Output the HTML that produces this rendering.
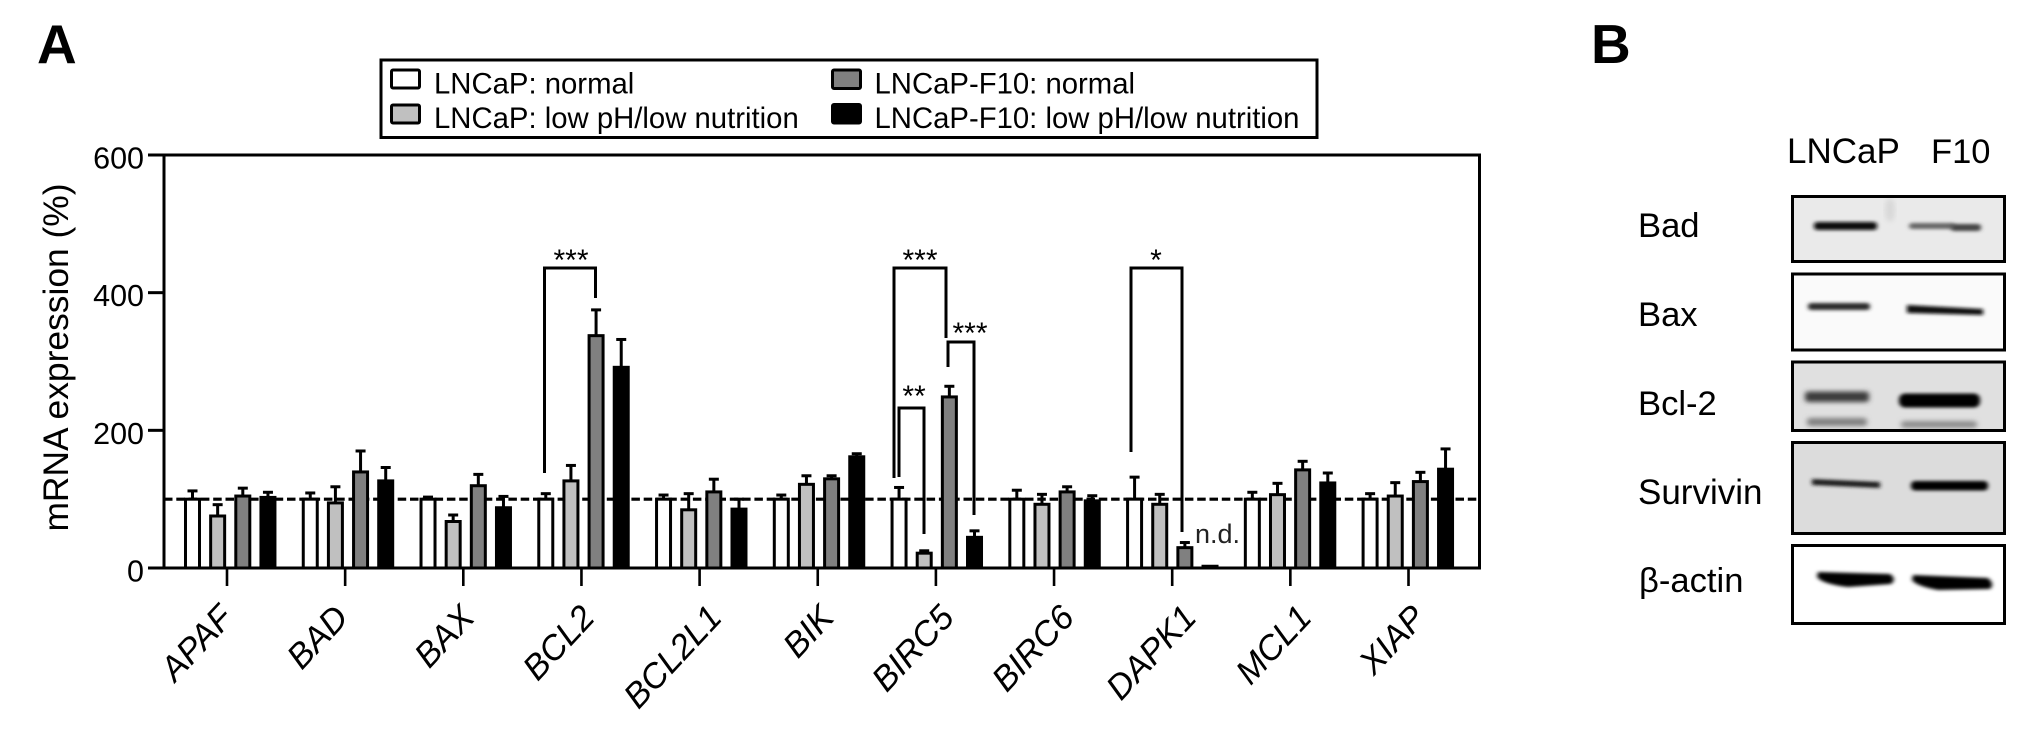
<!DOCTYPE html>
<html lang="en">
<head>
<meta charset="utf-8">
<title>mRNA expression and western blot</title>
<style>
html,body{margin:0;padding:0;background:#fff;width:2031px;height:737px;overflow:hidden}
svg{display:block;font-family:"Liberation Sans",sans-serif}
</style>
</head>
<body>
<svg id="figure" xmlns="http://www.w3.org/2000/svg" width="2031" height="737" viewBox="0 0 2031 737">
  <defs>
    <filter id="b1" x="-20%" y="-200%" width="140%" height="500%"><feGaussianBlur stdDeviation="2 1.7"/></filter>
    <filter id="b2" x="-20%" y="-200%" width="140%" height="500%"><feGaussianBlur stdDeviation="2.6 2.4"/></filter>
  </defs>

  <text x="37" y="63" font-size="55" font-weight="700" fill="#000">A</text>
  <text x="1591" y="63" font-size="55" font-weight="700" fill="#000">B</text>

  <g id="plot"></g>

  <g fill="none" stroke="#000" stroke-width="3">
    <path d="M544.5 473V268H595.5V298"/>
    <path d="M894 478V268H946V338"/>
    <path d="M899 477V408H924V534"/>
    <path d="M948 367V342H974V515"/>
    <path d="M1131 452V268H1182V532"/>
  </g>
  <g font-size="30" text-anchor="middle" fill="#000">
    <text x="571" y="270">***</text>
    <text x="920" y="270">***</text>
    <text x="914" y="406">**</text>
    <text x="970" y="343">***</text>
    <text x="1156" y="270">*</text>
  </g>
  <text x="1195" y="543" font-size="27" fill="#222">n.d.</text>

  <g>
    <rect x="381" y="60" width="936" height="77.5" fill="#fff" stroke="#000" stroke-width="3"/>
    <rect x="391.5" y="70" width="28" height="18" rx="1.5" fill="#fff" stroke="#000" stroke-width="3"/>
    <text x="434" y="93.5" font-size="29.3">LNCaP: normal</text>
    <rect x="391.5" y="105" width="28" height="18" rx="1.5" fill="#c0c0c0" stroke="#000" stroke-width="3"/>
    <text x="434" y="128" font-size="29.3">LNCaP: low pH/low nutrition</text>
    <rect x="832.5" y="70" width="28" height="18.5" rx="1.5" fill="#808080" stroke="#000" stroke-width="3"/>
    <text x="874.5" y="93.5" font-size="29.3">LNCaP-F10: normal</text>
    <rect x="832.5" y="104.5" width="28" height="18.5" rx="1.5" fill="#000" stroke="#000" stroke-width="3"/>
    <text x="874.5" y="128" font-size="29.3">LNCaP-F10: low pH/low nutrition</text>
  </g>

  <g>
    <text x="1787" y="163" font-size="35">LNCaP</text>
    <text x="1931" y="163" font-size="34.5">F10</text>

    <text x="1638" y="237" font-size="34.6">Bad</text>
    <text x="1638" y="326" font-size="34.6">Bax</text>
    <text x="1638" y="415" font-size="34.6">Bcl-2</text>
    <text x="1638" y="504" font-size="35">Survivin</text>
    <text x="1639" y="592" font-size="34.6" font-family="'Liberation Sans','DejaVu Sans',sans-serif">β-actin</text>

    <g>
      <rect x="1792.5" y="196.5" width="212" height="65" fill="#eaeaea"/>
      <ellipse cx="1890" cy="210" rx="5" ry="12" fill="#d8d8d8" filter="url(#b2)"/>
      <rect x="1814" y="222" width="63" height="8" rx="3" fill="#111" filter="url(#b1)"/>
      <rect x="1909" y="223" width="46" height="6" rx="3" fill="#666" filter="url(#b1)"/>
      <rect x="1951" y="224" width="30" height="7" rx="3" fill="#444" filter="url(#b1)"/>
    </g>
    <rect x="1792.5" y="196.5" width="212" height="65" fill="none" stroke="#000" stroke-width="3"/>

    <g>
      <rect x="1792.5" y="274" width="212" height="76" fill="#fafafa"/>
      <rect x="1808" y="303" width="62" height="7" rx="3" fill="#2a2a2a" filter="url(#b1)"/>
      <path d="M1907 305L1983 309V315L1907 313Z" fill="#111" filter="url(#b1)"/>
    </g>
    <rect x="1792.5" y="274" width="212" height="76" fill="none" stroke="#000" stroke-width="3"/>

    <g>
      <rect x="1792.5" y="362" width="212" height="68.5" fill="#e0e0e0"/>
      <rect x="1805" y="391.5" width="64" height="10.5" rx="3" fill="#3a3a3a" filter="url(#b2)"/>
      <rect x="1807" y="418" width="60" height="8" rx="3" fill="#808080" filter="url(#b2)"/>
      <rect x="1899" y="393.5" width="81" height="14" rx="6" fill="#000" filter="url(#b1)"/>
      <rect x="1901" y="421" width="76" height="7" rx="3" fill="#8c8c8c" filter="url(#b2)"/>
    </g>
    <rect x="1792.5" y="362" width="212" height="68.5" fill="none" stroke="#000" stroke-width="3"/>

    <g>
      <rect x="1792.5" y="442.5" width="212" height="91" fill="#dcdcdc"/>
      <path d="M1812 479L1880 482V488L1812 485Z" fill="#1c1c1c" filter="url(#b1)"/>
      <rect x="1911" y="481" width="77" height="9.5" rx="4" fill="#000" filter="url(#b1)"/>
    </g>
    <rect x="1792.5" y="442.5" width="212" height="91" fill="none" stroke="#000" stroke-width="3"/>

    <g>
      <rect x="1792.5" y="545.5" width="212" height="78" fill="#fff"/>
      <path d="M1818 572L1890 574Q1897 579 1891 584L1848 587Q1822 584 1817 577Z" fill="#000" filter="url(#b1)"/>
      <path d="M1913 575L1988 578Q1995 584 1990 589L1938 590Q1916 586 1912 580Z" fill="#000" filter="url(#b1)"/>
    </g>
    <rect x="1792.5" y="545.5" width="212" height="78" fill="none" stroke="#000" stroke-width="3"/>
  </g>
</svg>

<script>
const categories = ['APAF','BAD','BAX','BCL2','BCL2L1','BIK','BIRC5','BIRC6','DAPK1','MCL1','XIAP'];
const yTickValues = [0, 200, 400, 600];
const referenceLevel = [100];
const seriesNames = ['lncap-normal','lncap-low','f10-normal','f10-low'];
const seriesFills = ['#ffffff','#c0c0c0','#808080','#000000'];

const lncapNormalValues = [100,100,100,100,100,100,100,100,100,100,100];
const lncapNormalErrors = [12,9,3,8,6,6,17,13,32,10,8];
const lncapLowValues = [77,96,69,128,86,123,23,94,94,108,106];
const lncapLowErrors = [15,22,8,21,22,11,2,13,13,15,18];
const f10NormalValues = [106,141,121,339,112,131,250,112,31,144,127];
const f10NormalErrors = [10,29,15,36,17,3,14,6,6,11,12];
const f10LowValues = [104,128,89,293,87,163,46,99,4,125,145];
const f10LowErrors = [6,18,15,39,13,3,8,6,0,13,28];

const seriesValues = [lncapNormalValues, lncapLowValues, f10NormalValues, f10LowValues];
const seriesErrors = [lncapNormalErrors, lncapLowErrors, f10NormalErrors, f10LowErrors];

const plot = document.getElementById('plot');
const SVGNS = 'http://www.w3.org/2000/svg';

const yZero = 568, yTop = 155, yMax = 600;
const xLeft = 164, xRight = 1479.5;
function yScale(v){ return yZero - v * (yZero - yTop) / yMax; }
function tickX(i){ return 227 + i * 118.15; }
function barLeft(i, s){ return 184 + i * 117.76 + s * 25.15; }
const barOuterWidth = 17, stroke = 3;

/* the source figure's rotated labels are placed by hand, so each one has its own small horizontal nudge */
const labelNudge = [8,5,13,15,24,18,20,22,26,23,19];

function make(tag, attrs, parent){
  const el = document.createElementNS(SVGNS, tag);
  for (const k in attrs) el.setAttribute(k, attrs[k]);
  (parent || plot).appendChild(el);
  return el;
}

/* reference line sits behind the bars */
const refLine = make('line', {x1:xLeft, x2:xRight, y1:yScale(referenceLevel[0]), y2:yScale(referenceLevel[0]), stroke:'#000', 'stroke-width':3.2, 'stroke-dasharray':'8.5 3.8'});



categories.forEach(function(cat, i){
  const group = make('g', {});
  
  
  seriesValues.forEach(function(values, s){
    const v = values[i], err = seriesErrors[s][i];
    const left = barLeft(i, s);
    const cx = left + barOuterWidth / 2;
    if (err > 0) {
      const top = yScale(v + err);
      const stem = make('line', {x1:cx, x2:cx, y1:yScale(v), y2:top, stroke:'#000', 'stroke-width':stroke}, group);
      
      
      const cap = make('line', {x1:cx-5, x2:cx+5, y1:top, y2:top, stroke:'#000', 'stroke-width':stroke}, group);
      
      
    }
    const yy = yScale(v) + (s === 0 ? 0 : 1);
    const bar = make('rect', {x:left+stroke/2, y:yy, width:barOuterWidth-stroke, height:Math.max(yZero-yy,0), fill:seriesFills[s], stroke:'#000', 'stroke-width':stroke}, group);
    
    
  });

  const tick = make('line', {x1:tickX(i), x2:tickX(i), y1:yZero, y2:586, stroke:'#000', 'stroke-width':2.6});
  
  

  const ax = tickX(i) + labelNudge[i], ay = 619;
  const label = make('text', {x:ax, y:ay, 'font-size':34.5, 'font-style':'italic', 'text-anchor':'end', fill:'#000', transform:'rotate(-47 ' + ax + ' ' + ay + ')'});
  
  
  label.textContent = cat;
});

/* frame */
const frame = make('path', {d:'M' + xLeft + ' ' + yTop + 'V' + yZero + 'M148 ' + yTop + 'H' + xRight + 'V' + yZero + 'H148', fill:'none', stroke:'#000', 'stroke-width':3});



yTickValues.forEach(function(t){
  const y = yScale(t);
  const tick = make('line', {x1:148, x2:xLeft, y1:y, y2:y, stroke:'#000', 'stroke-width':3});
  
  
  const label = make('text', {x:144, y:y + 13.5, 'font-size':30.5, 'text-anchor':'end', fill:'#000'});
  
  
  label.textContent = String(t);
});

const yTitle = make('text', {x:0, y:0, 'font-size':35.4, 'text-anchor':'middle', fill:'#000', transform:'translate(68 357.5) rotate(-90)'});


yTitle.textContent = 'mRNA expression (%)';
</script>
</body>
</html>
